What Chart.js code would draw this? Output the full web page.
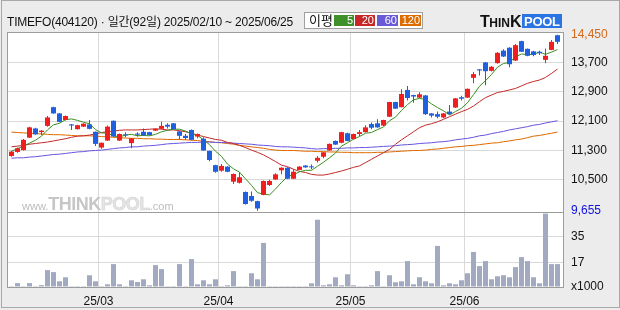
<!DOCTYPE html>
<html><head><meta charset="utf-8">
<script src="https://cdn.jsdelivr.net/npm/chart.js@4.4.1/dist/chart.umd.min.js"></script>
<style>
html,body{margin:0;padding:0;}
body{width:620px;height:310px;background:#ececec;position:relative;overflow:hidden;font-family:"Liberation Sans",Arial,"Noto Sans CJK KR",sans-serif;}
#frame{position:absolute;left:1px;top:0;width:619px;height:308px;border:1px solid #a8a8a8;box-sizing:border-box;}
#c{position:absolute;left:0;top:0;}
#title{position:absolute;left:7px;top:15px;font-size:12px;line-height:15px;color:#111;white-space:nowrap;letter-spacing:-0.2px;}
#legend{position:absolute;left:304px;top:12px;width:119px;height:17px;background:#fff;border:1px solid #a0a0a0;box-sizing:border-box;font-size:12px;}
#legend .lab{position:absolute;left:4px;top:0;line-height:15px;font-size:13px;color:#111;}
#legend .box{position:absolute;top:2px;height:11px;color:#fff;text-align:right;line-height:11px;font-size:11px;padding-right:1px;box-sizing:border-box;}
#logo{position:absolute;left:480px;top:13px;height:16px;white-space:nowrap;font-weight:bold;}
#logo .t1{font-size:16px;color:#111;font-family:"Liberation Sans",Arial,sans-serif;letter-spacing:-0.5px;}
#logo .t2{font-size:12px;color:#111;font-family:"Liberation Sans",Arial,sans-serif;}
#logo .pool{display:inline-block;background:#2b74e4;color:#fff;font-size:13px;line-height:13px;padding:1px 2px 0 2px;margin-left:1px;vertical-align:1px;letter-spacing:-0.3px;}
#wm{position:absolute;left:22px;top:194px;white-space:nowrap;color:#c6c6c6;font-weight:bold;}
#wm .s{font-size:11px;font-weight:normal;color:#bcbcbc;}
#wm .b{font-size:18px;letter-spacing:-0.5px;}
#wm .p{font-size:18px;color:#e4e4e4;letter-spacing:-0.5px;-webkit-text-stroke:0.5px #d0d0d0;}
</style>
</head><body>
<div id="frame"></div>
<canvas id="c" width="620" height="310"></canvas>
<div id="title"></div>
<div id="legend"><span class="lab">이평</span></div>
<div id="logo"><span class="t1">T</span><span class="t2">HIN</span><span class="t1">K</span><span class="pool">POOL</span></div>
<div id="wm"><span class="s">www.</span><span class="b">THINK</span><span class="p">POOL</span><span class="s">.com</span></div>
<script>
// ---- data ----
const stockName = 'TIMEFO';
const stockCode = '404120';
const months = ['02','03','04','05','06'];
const monthDays = [
  [10,11,12,13,14,17,18,19,20,21,24,25,26,27,28],
  [4,5,6,7,10,11,12,13,14,17,18,19,20,21,24,25,26,27,28,31],
  [1,2,3,4,7,8,9,10,11,14,15,16,17,18,21,22,23,24,25,28,29,30],
  [2,7,8,9,12,13,14,15,16,19,20,21,22,23,26,27,28,29,30],
  [2,4,5,9,10,11,12,13,16,17,18,19,20,23,24,25]
];
const opens = [11150,11260,11310,11650,11900,11800,11970,12480,12310,12130, 12010,11880,11950,12010,11810,11380,11570,12110,11570,11740, 11500,11760,11810,11800,11840,11890,12000,12040,11820,11700, 11860,11680,11620,11290,10900,10750,10860,10450,10420,10170, 10060,9920,10090,10360,10510,10760,10830,10530,10770,10890, 10860,11020,11130,11300,11560,11510,11770,11610,11750,11800, 12020,12040,11980,12220,12620,12480,12950,12810,12740,12800, 12310,12290,12200,12360,12470,12750,12740,13280,13510,13700, 13470,13680,14020,14100,13750,14280,14070,14000,13990,13770, 14040,14440];
const highs = [11290,11380,11610,11950,11920,11860,12240,12490,12320,12250, 12020,12000,12040,12130,11820,11520,11980,12120,11760,11800, 11640,11800,11900,11810,11900,12080,12040,12050,11830,11750, 11870,11760,11660,11290,10910,10930,10870,10670,10700,10180, 10180,9930,10480,10500,10680,10840,10840,10790,10870,10900, 10920,11150,11260,11490,11570,11810,11780,11760,11860,11990, 12060,12150,12140,12630,12630,12970,13060,12820,12890,12810, 12320,12360,12320,12540,12730,12790,12990,13440,13520,13710, 13600,13980,14060,14110,14200,14290,14080,14020,14020,14080, 14310,14450];
const lows = [11130,11240,11300,11640,11730,11720,11950,12300,12070,12120, 11860,11870,11940,11880,11420,11350,11560,11670,11560,11660, 11360,11680,11700,11710,11830,11880,11900,11880,11600,11590, 11580,11630,11290,11010,10690,10720,10710,10390,10400,9830, 9900,9655,10080,10330,10500,10650,10520,10520,10760,10830, 10790,10970,11090,11290,11450,11500,11550,11600,11690,11790, 11880,11920,11970,12210,12430,12470,12660,12600,12730,12270, 12200,12180,12180,12280,12460,12660,12730,13130,13340,13080, 13450,13660,13850,13570,13740,13980,13870,13870,13900,13680, 14030,14200];
const closes = [11270,11360,11590,11930,11740,11840,12200,12310,12080,12240, 11980,11990,12030,11890,11480,11510,11950,11680,11750,11710, 11630,11730,11710,11720,11890,11970,11950,11880,11700,11640, 11590,11750,11300,11040,10720,10880,10720,10660,10570,9840, 9930,9720,10470,10470,10650,10830,10530,10720,10860,10840, 10840,11100,11250,11480,11460,11800,11560,11750,11800,11930, 11920,11930,12130,12620,12440,12840,12730,12770,12830,12290, 12250,12220,12310,12290,12720,12710,12980,13380,13480,13460, 13580,13960,13860,13650,14170,13990,13880,13900,13950,13880, 14260,14260];
const volumesK = [0.6,2.7,0.6,2.7,0.6,1.3,11.8,10.4,4.0,6.8, 0.6,0.6,0.6,8.2,4.0,0.6,1.9,16.0,1.9,0.6, 4.7,3.5,5.4,1.2,15.3,12.5,0.6,0.6,16.0,0.6, 19.5,1.9,4.7,1.9,5.4,0.6,1.2,11.1,0.6,0.6, 9.6,5.4,30.8,0.6,0.6,0.6,0.6,0.6,0.6,0.6, 2.6,47.0,1.2,1.9,6.8,1.2,8.9,1.2,0.6,0.6, 1.2,11.1,0.6,8.2,3.3,4.0,18.1,1.9,6.8,4.0, 2.6,28.7,1.2,2.6,1.9,4.7,9.6,24.5,14.6,18.1, 5.4,7.5,8.2,6.8,13.9,20.9,18.1,6.8,2.6,51.3, 16.0,16.0];
const ma5 = [11280,11350,11420,11500,11580,11690,11860,12000,12040,12140, 12160,12120,12070,12030,11870,11780,11770,11700,11670,11720, 11740,11700,11710,11700,11740,11810,11850,11880,11880,11830, 11750,11710,11590,11460,11280,11140,10930,10800,10710,10530, 10350,10150,10110,10090,10250,10430,10590,10640,10720,10760, 10760,10870,10980,11100,11230,11420,11510,11610,11680,11770, 11790,11870,11940,12110,12210,12390,12550,12680,12720,12690, 12570,12470,12380,12270,12360,12450,12600,12820,13050,13200, 13370,13570,13670,13700,13850,13930,13910,13920,13980,13920, 13980,14050];
const ma20 = [11400,11420,11440,11470,11490,11510,11530,11560,11590,11620, 11660,11690,11700,11720,11750,11790,11810,11830,11850,11860, 11860,11860,11870,11880,11890,11880,11860,11860,11840,11810, 11770,11720,11680,11640,11600,11580,11520,11490,11440,11380, 11310,11250,11180,11090,11000,10900,10860,10790,10730,10700, 10650,10630,10630,10660,10700,10740,10790,10840,10880,10970, 11060,11150,11240,11330,11470,11590,11700,11810,11920,11990, 12030,12080,12150,12220,12290,12360,12420,12510,12630,12740, 12810,12880,12910,12950,12990,13060,13130,13180,13220,13290, 13400,13520];
const ma60 = [11090,11100,11100,11120,11130,11150,11170,11190,11200,11220, 11240,11260,11270,11290,11300,11310,11330,11350,11370,11380, 11400,11400,11420,11430,11440,11460,11480,11490,11500,11510, 11520,11520,11530,11530,11520,11520,11510,11500,11490,11480, 11470,11450,11440,11430,11410,11400,11400,11390,11380,11370, 11350,11340,11350,11350,11360,11360,11370,11370,11380,11380, 11390,11400,11410,11420,11430,11450,11460,11470,11490,11500, 11510,11530,11540,11560,11590,11610,11630,11660,11700,11720, 11760,11790,11820,11860,11890,11920,11950,11990,12010,12050, 12080,12110];
const ma120 = [11800,11790,11780,11770,11760,11750,11740,11730,11730,11720, 11710,11700,11700,11700,11690,11680,11670,11660,11650,11640, 11630,11630,11620,11620,11610,11610,11600,11600,11600,11590, 11580,11570,11550,11540,11520,11510,11490,11470,11440,11420, 11400,11380,11360,11330,11310,11300,11300,11300,11290,11280, 11280,11270,11270,11260,11260,11250,11250,11240,11240,11240, 11240,11250,11250,11260,11270,11280,11290,11300,11300,11310, 11330,11340,11360,11380,11400,11410,11430,11440,11460,11480, 11500,11510,11540,11560,11590,11610,11650,11690,11710,11740, 11770,11800];
const priceTicks = [10500, 11300, 12100, 12900, 13700];
const volTicks = [0, 17, 35];
const maPeriods = ['5', '20', '60', '120'];
const maColors = ['#3a8f22', '#c02a2a', '#6655dd', '#dd6a00'];
const legendBoxColors = ['#3f8f2b', '#c62828', '#6a5ad6', '#dc6b00'];

// ---- derived ----
const dates = [];
monthDays.forEach((days, m) => days.forEach(d => dates.push('2025/' + months[m] + '/' + String(d).padStart(2, '0'))));
const monthStarts = [];
dates.forEach((d, i) => { if (i > 0 && d.slice(5, 7) !== dates[i - 1].slice(5, 7)) monthStarts.push(i); });
const priceHigh = Math.max(...highs), priceLow = Math.min(...lows);
const UP = '#f01e1e', DOWN = '#1f5fe0';
const candleColor = opens.map((o, i) => closes[i] >= o ? UP : DOWN);

document.getElementById('title').textContent =
  stockName + '(' + stockCode + ') · 일간(' + dates.length + '일) ' + dates[0] + ' ~ ' + dates[dates.length - 1];
const lg = document.getElementById('legend');
const boxLeft = [29, 50, 72, 95], boxW = [20, 20, 21, 21];
maPeriods.forEach((p, k) => {
  const b = document.createElement('span');
  b.className = 'box'; b.textContent = p;
  b.style.left = boxLeft[k] + 'px'; b.style.width = boxW[k] + 'px'; b.style.background = legendBoxColors[k];
  lg.appendChild(b);
});

const fmt = v => Math.round(v).toLocaleString('en-US');
const tickFont = { family: '"Liberation Sans", Arial, sans-serif', size: 12 };

const framePlugin = {
  id: 'frame',
  beforeDraw(chart) {
    const { ctx, chartArea: a } = chart;
    ctx.save(); ctx.fillStyle = '#ffffff';
    ctx.fillRect(a.left, a.top, a.right - a.left, a.bottom - a.top);
    ctx.restore();
  },
  afterDraw(chart) {
    const { ctx, chartArea: a, scales } = chart;
    ctx.save(); ctx.strokeStyle = '#9c9c9c'; ctx.lineWidth = 1;
    const l = Math.round(a.left) - 0.5, t = Math.round(a.top) - 0.5, r = Math.round(a.right) + 0.5, b = Math.round(a.bottom) + 0.5;
    ctx.strokeRect(l, t, r - l, b - t);
    const ys = Math.round(scales.yv.top) + 0.5;
    ctx.beginPath(); ctx.moveTo(l, ys); ctx.lineTo(r, ys); ctx.stroke();
    ctx.restore();
  }
};

const idx = opens.map((_, i) => i);
const line = (arr, k) => ({
  type: 'line', label: 'MA' + maPeriods[k], data: idx.map(i => ({ x: i, y: arr[i] })),
  borderColor: maColors[k], borderWidth: 1, pointRadius: 0, yAxisID: 'y', xAxisID: 'x', order: 2
});

new Chart(document.getElementById('c'), {
  type: 'bar',
  data: {
    datasets: [
      { label: 'body', data: idx.map(i => ({ x: i, y: [opens[i], closes[i]] })), backgroundColor: candleColor,
        barThickness: 5, minBarLength: 1, grouped: false, inflateAmount: 0, yAxisID: 'y', order: 0 },
      { label: 'wick', data: idx.map(i => ({ x: i, y: [lows[i], highs[i]] })), backgroundColor: candleColor,
        barThickness: 1, grouped: false, inflateAmount: 0, yAxisID: 'y', order: 1 },
      line(ma5, 0), line(ma20, 1), line(ma60, 2), line(ma120, 3),
      { label: 'volume', data: idx.map(i => ({ x: i, y: volumesK[i] })), backgroundColor: '#a2aac2',
        barThickness: 5, grouped: false, inflateAmount: 0, yAxisID: 'yv', order: 3 }
    ]
  },
  options: {
    responsive: false, animation: false, devicePixelRatio: 1,
    layout: { padding: { left: 8, top: 33, right: 0, bottom: 0 } },
    plugins: { legend: { display: false }, tooltip: { enabled: false } },
    scales: {
      x: {
        type: 'linear', offset: false, min: -0.5833, max: 91.9167,
        grid: { color: '#d9d9d9', drawTicks: false, offset: false },
        border: { display: false },
        afterBuildTicks: s => { s.ticks = monthStarts.map(i => ({ value: i - 0.5 })); },
        ticks: { autoSkip: false, maxRotation: 0, padding: 7, color: '#111', font: { family: '"Liberation Sans", Arial, sans-serif', size: 12 },
          callback: v => { const i = Math.round(v + 0.5); return dates[i].slice(2, 4) + '/' + dates[i].slice(5, 7); } },
        afterFit: s => { s.height = 23; }
      },
      y: {
        type: 'linear', position: 'right', stack: 'main', stackWeight: 179,
        min: 9624, max: 14501,
        grid: { drawTicks: false, color: c => (c.tick && (c.tick.value === priceHigh || c.tick.value === priceLow)) ? 'rgba(0,0,0,0)' : '#d9d9d9' },
        border: { display: false },
        afterBuildTicks: s => { s.ticks = [priceLow, ...priceTicks, priceHigh].map(v => ({ value: v })); },
        ticks: { autoSkip: false, padding: 8, font: tickFont, callback: v => fmt(v),
          color: c => c.tick.value === priceHigh ? '#d2691e' : (c.tick.value === priceLow ? '#1010e0' : '#111') },
        afterFit: s => { s.width = 57; }
      },
      yv: {
        type: 'linear', position: 'right', stack: 'main', stackWeight: 75,
        min: 0, max: 52.4,
        grid: { drawTicks: false, color: c => (c.tick && c.tick.value === 0) ? 'rgba(0,0,0,0)' : '#d9d9d9' },
        border: { display: false },
        afterBuildTicks: s => { s.ticks = volTicks.map(v => ({ value: v })); },
        ticks: { autoSkip: false, padding: 8, font: tickFont, color: '#111', callback: v => v === 0 ? 'x1000' : String(v) },
        afterFit: s => { s.width = 57; }
      }
    }
  },
  plugins: [framePlugin]
});
</script>
</body></html>
